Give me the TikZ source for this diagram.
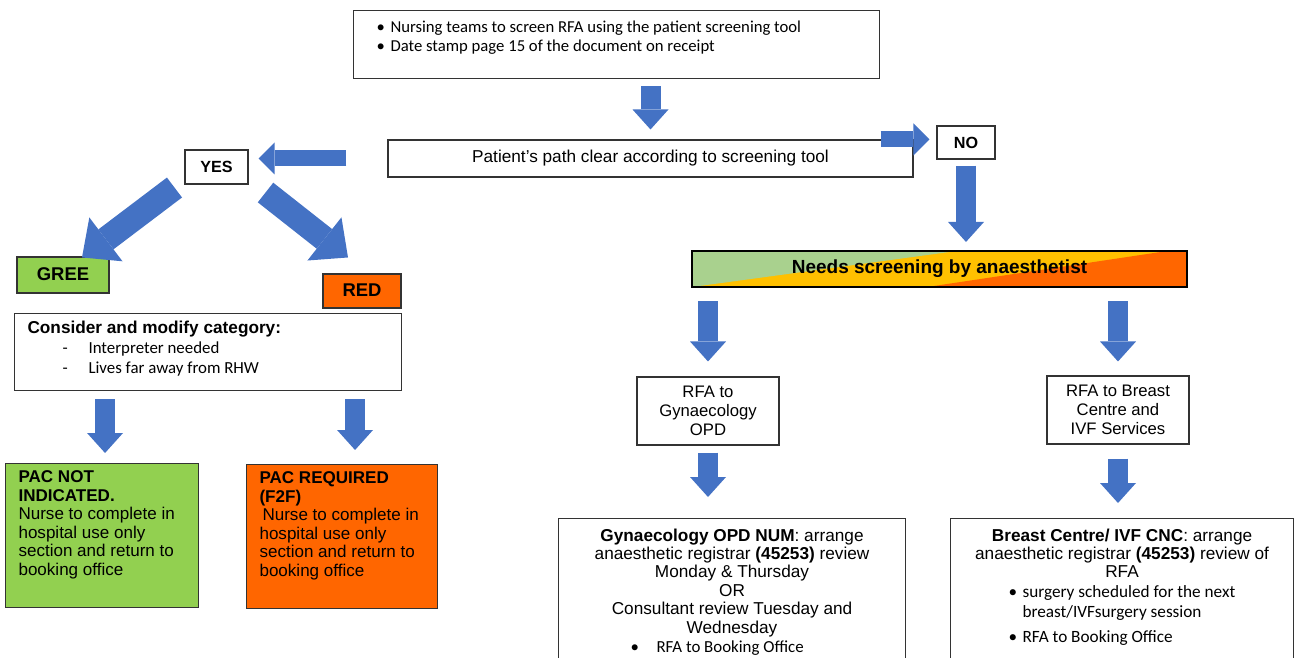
\documentclass[tikz,border=0pt]{standalone}
\usepackage{fontspec}
\setmainfont{Liberation Sans}
\newfontfamily\calibri{Carlito}
\usepackage{xcolor}
\usetikzlibrary{arrows.meta,positioning,calc}

\newlength{\px}
\setlength{\px}{0.02cm}
\newcommand{\fs}[2]{\fontsize{#1}{#2}\selectfont}

\definecolor{arrowblue}{HTML}{4472C4}
\definecolor{okgreen}{HTML}{92D050}
\definecolor{alertorange}{HTML}{FF6600}
\definecolor{palegreen}{HTML}{A9D18E}
\definecolor{amber}{HTML}{FFC000}

\begin{document}
\begin{tikzpicture}[x=0.02cm, y=-0.02cm]
  \tikzstyle{box} = [rectangle, draw=black!80, line width=0.6pt, inner sep=0pt, text centered]
  \tikzstyle{tag} = [box, font=\bfseries\fs{9.2}{11}]
  \tikzstyle{bluearrow} = [draw=arrowblue, line width=0.4cm, -{Triangle[line width=0pt, width=0.72cm, length=0.4cm]}]
  \tikzstyle{sidearrow} = [draw=arrowblue, line width=0.32cm, -{Triangle[line width=0pt, width=0.64cm, length=0.32cm]}]
  \tikzstyle{bigarrow} = [draw=arrowblue, line width=0.5cm, -{Triangle[line width=0pt, width=1.1cm, length=0.6cm]}]

  \useasboundingbox (0,0) rectangle (1295,658);
  \clip (0,0) rectangle (1295,658);

  % screening step
  \node [box, anchor=north west] (screen) at (353,10) {\parbox[c][68\px][t]{526\px}{\calibri\fs{9.5}{11.2}\leftskip=23\px
      \vspace*{10\px}
      \makebox[14\px][l]{\textbullet}Nursing teams to screen RFA using the patient screening tool\par
      \makebox[14\px][l]{\textbullet}Date stamp page 15 of the document on receipt\par}};
  \node [box, minimum width=525\px, minimum height=37\px, font=\fs{9.8}{11}] (clear) at (650.5,158.5) {Patient’s path clear according to screening tool};
  \node [tag, minimum width=63\px, minimum height=34\px] (yes) at (216.5,167) {YES};
  \node [tag, minimum width=58\px, minimum height=33\px] (no) at (966,142.5) {NO};

  % yes branch
  \node [tag, fill=okgreen, minimum width=92\px, minimum height=36\px, font=\bfseries\fs{10.5}{12}] (gree) at (63,275) {\raisebox{2\px}{GREE}};
  \node [tag, fill=alertorange, minimum width=78\px, minimum height=34\px, font=\bfseries\fs{10.5}{12}] (red) at (362,291) {\raisebox{1\px}{RED}};
  \node [box, anchor=north west] (modify) at (14,313) {\parbox[c][77\px][t]{387\px}{\leftskip=13\px\vspace*{7\px}
      {\bfseries\fs{9.8}{11}Consider and modify category:\par}
      {\calibri\fs{9.6}{11.6}\hspace*{35\px}\makebox[26\px][l]{-}Interpreter needed\par
      \hspace*{35\px}\makebox[26\px][l]{-}Lives far away from RHW\par}}};
  \node [box, fill=okgreen, anchor=north west] (notind) at (5,463) {\parbox[c][144\px][t]{193\px}{\raggedright\leftskip=13\px\fs{9.7}{10.6}\vspace*{7\px}
      {\bfseries PAC NOT\\INDICATED.}\\Nurse to complete in\\hospital use only\\section and return to\\booking office}};
  \node [box, fill=alertorange, anchor=north west] (req) at (246,464) {\parbox[c][144\px][t]{191\px}{\raggedright\leftskip=13\px\fs{9.7}{10.6}\vspace*{7\px}
      {\bfseries PAC REQUIRED\\(F2F)}\\\hspace*{3\px}Nurse to complete in\\hospital use only\\section and return to\\booking office}};

  % no branch
  \node [box, draw=black, line width=1.2pt, minimum width=495\px, minimum height=36\px, font=\bfseries\fs{10.8}{12},
    path picture={
      \fill [amber] (path picture bounding box.south west) rectangle (path picture bounding box.north east);
      \fill [palegreen] (path picture bounding box.north west) -- ($(path picture bounding box.north west)!0.535!(path picture bounding box.north east)$) -- (path picture bounding box.south west) -- cycle;
      \fill [alertorange] ($(path picture bounding box.south west)!0.475!(path picture bounding box.south east)$) -- (path picture bounding box.south east) -- (path picture bounding box.north east) -- ($(path picture bounding box.north west)!0.96!(path picture bounding box.north east)$) -- cycle;
    }] (needs) at (939.5,269) {Needs screening by anaesthetist};
  \node [box, minimum width=142\px, minimum height=68\px, align=center, font=\fs{9.5}{10.8}] (gyn) at (708,411) {RFA to\\Gynaecology\\OPD};
  \node [box, minimum width=142\px, minimum height=68\px, align=center, font=\fs{9.5}{10.8}] (breast) at (1118,410) {RFA to Breast\\Centre and\\IVF Services};
  \node [box, anchor=north west] (gynnum) at (558,518) {\parbox[c][170\px][t]{347\px}{\centering\fs{9.8}{10.5}\vspace*{10\px}
      {\bfseries Gynaecology OPD NUM}: arrange\\ anaesthetic registrar {\bfseries (45253)} review\\ Monday \& Thursday\\ OR\\ Consultant review Tuesday and\\ Wednesday\par
      {\calibri\fs{9.6}{11.2}\makebox[\linewidth][l]{\hspace*{72\px}\makebox[26\px][l]{\textbullet}RFA to Booking Office}\par}}};
  \node [box, anchor=north west] (breastnum) at (950,518) {\parbox[c][170\px][t]{343\px}{\centering\fs{9.8}{10.5}\vspace*{10\px}
      {\bfseries Breast Centre/ IVF CNC}: arrange\\ anaesthetic registrar {\bfseries (45253)} review of\\ RFA\par
      {\calibri\fs{9.8}{11.4}\makebox[\linewidth][l]{\hspace*{58\px}\makebox[14\px][l]{\textbullet}surgery scheduled for the next}\\
      \makebox[\linewidth][l]{\hspace*{72\px}breast/IVFsurgery session}\\[2.3pt]
      \makebox[\linewidth][l]{\hspace*{58\px}\makebox[14\px][l]{\textbullet}RFA to Booking Office}\par}}};

  % block arrows
  \path [bluearrow, shorten <=7\px, shorten >=10\px] (clear.north |- screen.south) -- (clear.north);
  \path [sidearrow, shorten >=7\px] ([xshift=-33\px]clear.north east) -- (no.west |- clear.north east);
  \path [sidearrow, shorten >=10\px] ([xshift=-41\px]clear.west) -- (yes.east |- clear.west);
  \path [bigarrow] ([xshift=-10\px, yshift=-3\px]yes.south west) -- ([xshift=19\px, yshift=-1\px]gree.north);
  \path [bigarrow] ([xshift=17\px, yshift=-8\px]yes.south east) -- ([xshift=-14\px, yshift=16\px]red.north);
  \path [bluearrow, shorten <=6\px, shorten >=8\px] (no.south) -- (no.south |- needs.north);
  \path [bluearrow, shorten <=13\px, shorten >=15\px] (gyn.north |- needs.south) -- (gyn.north);
  \path [bluearrow, shorten <=13\px, shorten >=14\px] (breast.north |- needs.south) -- (breast.north);
  \path [bluearrow, shorten <=7\px, shorten >=21\px] (gyn.south) -- (gyn.south |- gynnum.north);
  \path [bluearrow, shorten <=14\px, shorten >=15\px] (breast.south) -- (breast.south |- breastnum.north);
  \path [bluearrow, shorten <=8\px, shorten >=10\px] ([xshift=3\px]notind.north |- modify.south) -- ([xshift=3\px]notind.north);
  \path [bluearrow, shorten <=8\px, shorten >=14\px] ([xshift=13\px]req.north |- modify.south) -- ([xshift=13\px]req.north);
\end{tikzpicture}
\end{document}
